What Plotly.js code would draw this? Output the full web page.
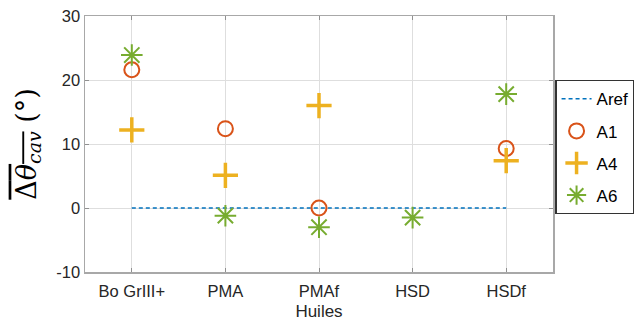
<!DOCTYPE html>
<html>
<head>
<meta charset="utf-8">
<script src="https://cdn.plot.ly/plotly-3.0.1.min.js"></script>
<style>html,body{margin:0;padding:0;background:#fff;}#chart{width:635px;height:324px;}</style>
</head>
<body>
<div id="chart"></div>
<script>
const categories = ["Bo GrIII+", "PMA", "PMAf", "HSD", "HSDf"];
const aref = [0, 0, 0, 0, 0];
const a1 = [21.6, 12.4, 0.0, null, 9.3];
const a4 = [12.2, 5.1, 16.0, null, 7.4];
const a6 = [23.9, -1.2, -3.0, -1.5, 17.8];
const yTicks = [-10, 0, 10, 20, 30];

const traces = [
  {x: categories, y: aref, name: "Aref", mode: "lines", legendgroup: "g1",
   line: {color: "#0072BD", width: 1.5, dash: "4px,3px"}},
  {x: categories, y: a1, name: "A1", mode: "markers", legendgroup: "g2",
   marker: {symbol: "circle-open", size: 15, color: "#D95319", line: {width: 2, color: "#D95319"}}},
  {x: categories, y: a4, name: "A4", mode: "markers", legendgroup: "g3",
   marker: {symbol: "cross-thin-open", size: 18, color: "#EDB120", line: {width: 3.5, color: "#EDB120"}}},
  {x: categories, y: a6, name: "A6", mode: "markers", legendgroup: "g4",
   marker: {symbol: "asterisk-open", size: 18, color: "#77AC30", line: {width: 2, color: "#77AC30"}}}
];

const layout = {
  width: 635, height: 324,
  margin: {l: 85, r: 82, t: 16, b: 52, autoexpand: false},
  paper_bgcolor: "#fff", plot_bgcolor: "#fff",
  font: {family: "Liberation Sans, Arial, sans-serif", color: "#262626", size: 16.5},
  showlegend: true,
  legend: {xref: "container", yref: "container", x: 0.999, y: 0.753, xanchor: "right", yanchor: "top",
           bordercolor: "#333", borderwidth: 1.2, bgcolor: "#fff",
           font: {size: 17, color: "#000"}, tracegroupgap: 7, itemwidth: 30},
  xaxis: {type: "category", categoryarray: categories, range: [-0.5, 4.5],
          showgrid: true, gridcolor: "#dedede", gridwidth: 1,
          showline: true, linecolor: "#a8a8a8", linewidth: 1.5, mirror: "ticks",
          ticks: "inside", ticklen: 4, tickcolor: "#909090",
          zeroline: false, ticklabelstandoff: 4,
          title: {text: "Huiles", font: {size: 17, color: "#262626"}, standoff: 6}},
  yaxis: {range: [-10, 30], tickvals: yTicks, ticktext: yTicks.map(String),
          showgrid: true, gridcolor: "#dedede", gridwidth: 1,
          showline: true, linecolor: "#a8a8a8", linewidth: 1.5, mirror: "ticks",
          ticks: "inside", ticklen: 4, tickcolor: "#909090",
          zeroline: false,
          title: {text: "<span style='text-decoration:overline'>Δ<i>θ</i><sub><i>cav</i></sub></span> (°)",
                  font: {family: "DejaVu Serif, Liberation Serif, serif", size: 27, color: "#000"}, standoff: 12}}
};

Plotly.newPlot("chart", traces, layout, {displayModeBar: false, staticPlot: true});
</script>
</body>
</html>
